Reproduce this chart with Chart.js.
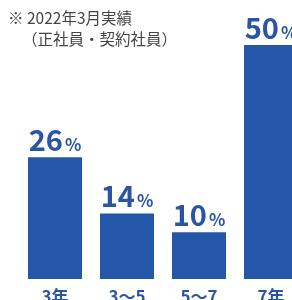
<!DOCTYPE html>
<html>
<head>
<meta charset="utf-8">
<script src="https://cdn.jsdelivr.net/npm/chart.js@4"></script>
<style>
    html, body { margin: 0; padding: 0; background: #fff; overflow: hidden; }
    #wrap { position: relative; width: 292px; height: 300px; overflow: hidden; }
    #box { position: absolute; left: 0; top: 0; width: 310px; height: 320px; }
    .note {
        position: absolute;
        font-family: "Noto Sans CJK JP", "Noto Sans", sans-serif;
        font-size: 15.5px;
        color: #444;
        white-space: nowrap;
        line-height: 1;
    }
</style>
</head>
<body>
<div id="wrap">
    <div id="box"><canvas id="tenureChart"></canvas></div>
    <div class="note" style="left:8px; top:10px;">※ 2022年3月実績</div>
    <div class="note" style="left:22px; top:31px;">（正社員・契約社員）</div>
</div>
<script>
const categories = [['3年', '未満'], ['3〜5', '年'], ['5〜7', '年'], ['7年', '以上']];
const shares = [26, 14, 10, 50];

const BLUE = '#2457a8';
const LABEL_BLUE = '#2a55a4';
const FONT = '"Noto Sans CJK JP", "Noto Sans", sans-serif';

// draws "26%" above each bar, big digits + small percent sign
const valueLabels = {
    id: 'valueLabels',
    afterDatasetsDraw(chart) {
        const ctx = chart.ctx;
        const meta = chart.getDatasetMeta(0);
        ctx.save();
        ctx.fillStyle = LABEL_BLUE;
        ctx.textBaseline = 'alphabetic';
        ctx.textAlign = 'left';
        meta.data.forEach((bar, i) => {
            const num = String(shares[i]);
            ctx.font = 'bold 29px ' + FONT;
            const w1 = ctx.measureText(num).width;
            ctx.font = 'bold 17px ' + FONT;
            const w2 = ctx.measureText('%').width;
            const x0 = bar.x - (w1 + w2 + 2) / 2;
            const y = bar.y - 6;
            ctx.font = 'bold 29px ' + FONT;
            ctx.fillText(num, x0, y);
            ctx.font = 'bold 17px ' + FONT;
            ctx.fillText('%', x0 + w1 + 2, y);
        });
        ctx.restore();
    }
};

function createChart() {
    const ctx = document.getElementById('tenureChart').getContext('2d');
    new Chart(ctx, {
        type: 'bar',
        data: {
            labels: categories,
            datasets: [{
                data: shares,
                backgroundColor: BLUE,
                borderWidth: 0,
                barPercentage: 0.75,
                categoryPercentage: 1
            }]
        },
        options: {
            responsive: true,
            maintainAspectRatio: false,
            animation: false,
            layout: {
                padding: { left: 19, right: 3, top: 21.6, bottom: 0 }
            },
            plugins: {
                legend: { display: false },
                tooltip: { enabled: false }
            },
            scales: {
                x: {
                    grid: { display: false, drawTicks: false },
                    border: { display: false },
                    ticks: {
                        color: LABEL_BLUE,
                        padding: 7,
                        font: { family: FONT, size: 17, weight: 'bold' }
                    },
                    afterFit: (s) => { s.height = 41; }
                },
                y: {
                    display: false,
                    min: 0,
                    max: 55
                }
            }
        },
        plugins: [valueLabels]
    });
}

window.addEventListener('load', createChart);
</script>
</body>
</html>
